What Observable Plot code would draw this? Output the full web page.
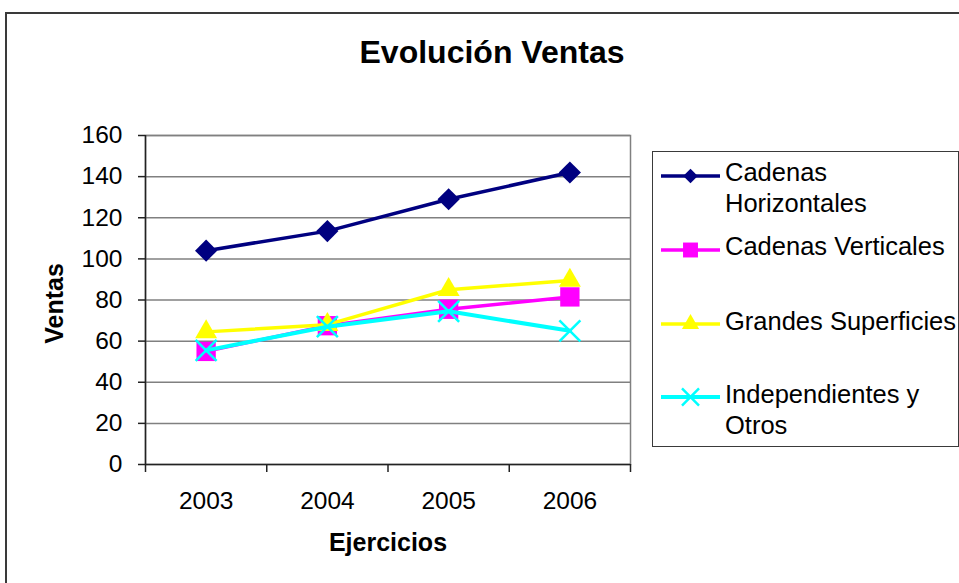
<!DOCTYPE html>
<html>
<head>
<meta charset="utf-8">
<script src="https://cdn.jsdelivr.net/npm/d3@7"></script>
<script src="https://cdn.jsdelivr.net/npm/@observablehq/plot@0.6"></script>
<style>
  html, body { margin: 0; padding: 0; background: #fff; }
  body { font-family: "Liberation Sans", Arial, sans-serif; color: #000; }
  #wrap { position: relative; width: 959px; height: 583px; overflow: hidden; background: #fff; }
  #chart { position: absolute; left: 0; top: 0; }
  .ov { position: absolute; white-space: nowrap; }
  #border { position: absolute; left: 5px; top: 12px; width: 1200px; height: 1200px;
            border-top: 2px solid #3a3a3a; border-left: 2px solid #3a3a3a; }
  #title { left: 0; width: 984px; top: 36px; text-align: center; font-weight: bold;
           font-size: 32px; line-height: 32px; }
  #xtitle { left: 288px; width: 200px; top: 530px; text-align: center; font-weight: bold;
            font-size: 25px; line-height: 25px; }
  #ytitle { left: -46px; top: 290.5px; width: 200px; height: 25px; text-align: center; font-weight: bold;
            font-size: 25px; line-height: 25px; transform: rotate(-90deg); transform-origin: 50% 50%; }
  #legend { position: absolute; left: 652px; top: 151px; width: 305px; height: 294px;
            border: 1.5px solid #3a3a3a; background: #fff; }
  .lt { position: absolute; left: 72px; font-size: 25.5px; line-height: 31px; }
  .ls { position: absolute; left: 0; }
</style>
</head>
<body>
<div id="wrap">
  <div id="border"></div>
  <div id="chart"></div>
  <div id="title" class="ov"></div>
  <div id="ytitle" class="ov"></div>
  <div id="xtitle" class="ov"></div>
  <div id="legend"></div>
</div>
<script>
// ---- data ----
const title = "Evolución Ventas";
const xTitle = "Ejercicios";
const yTitle = "Ventas";
const years = ["2003", "2004", "2005", "2006"];
const seriesNames = ["Cadenas Horizontales", "Cadenas Verticales", "Grandes Superficies", "Independientes y Otros"];
const cadenasHorizontales = [104, 113.5, 129, 142];
const cadenasVerticales = [55, 67.5, 75.5, 81.5];
const grandesSuperficies = [64.5, 68, 85, 89.5];
const independientesOtros = [55.5, 67, 74.5, 65];
const yTicks = [0, 20, 40, 60, 80, 100, 120, 140, 160];
const legendLines = [["Cadenas", "Horizontales"], ["Cadenas Verticales"], ["Grandes Superficies"], ["Independientes y", "Otros"]];

// ---- styles ----
const seriesValues = [cadenasHorizontales, cadenasVerticales, grandesSuperficies, independientesOtros];
const colors = ["#000080", "#FF00FF", "#FFFF00", "#00FFFF"];
const symbols = ["diamond2", "square2", "triangle2", "times"];
const d3symbols = [d3.symbolDiamond2, d3.symbolSquare2, d3.symbolTriangle2, d3.symbolTimes];
const radii = [10, 12.3, 10.5, 9.6];
const legendRadii = [6.5, 9.5, 8.2, 7.8];
const lineWidths = [3.5, 3.5, 3.5, 4];

const idx = years.map((_, i) => i);
const boundaries = d3.range(years.length + 1).map(i => i - 0.5);
const font = "Liberation Sans, Arial, sans-serif";

const seriesMarks = seriesNames.flatMap((name, k) => {
  const rows = idx.map(i => ({i, v: seriesValues[k][i], series: name}));
  const isStroke = symbols[k] === "times";
  return [
    Plot.line(rows, {x: "i", y: "v", stroke: colors[k], strokeWidth: lineWidths[k]}),
    Plot.dot(rows, {x: "i", y: "v", symbol: symbols[k], r: radii[k],
      fill: isStroke ? "none" : colors[k], stroke: isStroke ? colors[k] : "none",
      strokeWidth: isStroke ? 2.5 : 0})
  ];
});

const chart = Plot.plot({
  width: 959,
  height: 583,
  marginLeft: 145,
  marginRight: 329,
  marginTop: 135,
  marginBottom: 119,
  style: {fontFamily: font, fontSize: "24.5px", color: "#000", background: "transparent"},
  x: {type: "linear", domain: [boundaries[0], boundaries[boundaries.length - 1]]},
  y: {type: "linear", domain: [0, 160]},
  marks: [
    Plot.gridY(yTicks.filter(t => t > 0), {stroke: "#808080", strokeOpacity: 1, strokeWidth: 1.5}),
    Plot.frame({stroke: "#808080", strokeWidth: 1.5}),
    Plot.axisY(yTicks, {tickSize: 7, tickPadding: 16, fontSize: 24.5, label: null, stroke: "#222", strokeWidth: 1.5}),
    Plot.axisX(boundaries, {tickSize: 8, tickFormat: () => "", label: null, stroke: "#222", strokeWidth: 1.5}),
    Plot.axisX(idx, {tickSize: 0, tickPadding: 27, tickFormat: i => years[i], fontSize: 24.5, label: null}),
    Plot.ruleX([boundaries[0]], {stroke: "#222", strokeWidth: 1.5}),
    Plot.ruleY([0], {stroke: "#222", strokeWidth: 1.5}),
    ...seriesMarks
  ]
});
document.getElementById("chart").appendChild(chart);

document.getElementById("title").textContent = title;
document.getElementById("xtitle").textContent = xTitle;
document.getElementById("ytitle").textContent = yTitle;

// ---- legend ----
const legend = document.getElementById("legend");
const textTops = [5, 79, 154, 227];     // relative to legend box
const swatchYs = [24, 98, 172, 245];
legendLines.forEach((lines, k) => {
  const t = document.createElement("div");
  t.className = "lt";
  t.style.top = textTops[k] + "px";
  t.innerHTML = lines.map(s => s.replace(/&/g, "&amp;")).join("<br>");
  legend.appendChild(t);
  const svg = d3.create("svg").attr("class", "ls").attr("width", 72).attr("height", 30)
    .style("top", (swatchYs[k] - 15) + "px");
  svg.append("line").attr("x1", 8).attr("x2", 67).attr("y1", 15).attr("y2", 15)
    .attr("stroke", colors[k]).attr("stroke-width", lineWidths[k]);
  const r = legendRadii[k];
  const p = svg.append("path").attr("transform", "translate(37.5,15)")
    .attr("d", d3.symbol(d3symbols[k], Math.PI * r * r)());
  if (symbols[k] === "times") p.attr("fill", "none").attr("stroke", colors[k]).attr("stroke-width", 2.5);
  else p.attr("fill", colors[k]);
  legend.appendChild(svg.node());
});
</script>
</body>
</html>
